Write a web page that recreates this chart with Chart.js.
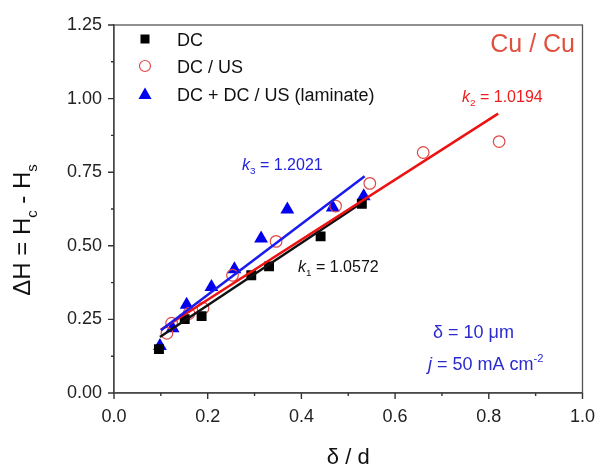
<!DOCTYPE html>
<html>
<head>
<meta charset="utf-8">
<script src="https://cdn.jsdelivr.net/npm/chart.js@4.4.0/dist/chart.umd.min.js"></script>
<style>
html,body{margin:0;padding:0;background:#fff}
</style>
</head>
<body>
<canvas id="c" width="608" height="466"></canvas>
<script>
'use strict'
// values
var dcX=[0.096,0.151,0.187,0.293,0.331,0.441,0.529]
var dcY=[0.149,0.251,0.261,0.400,0.430,0.532,0.643]
var usX=[0.113,0.123,0.160,0.190,0.253,0.346,0.473,0.546,0.660,0.822]
var usY=[0.203,0.237,0.270,0.288,0.400,0.515,0.635,0.712,0.817,0.854]
var lamX=[0.098,0.125,0.155,0.208,0.257,0.314,0.370,0.467,0.533]
var lamY=[0.160,0.220,0.300,0.360,0.420,0.525,0.623,0.630,0.668]
// fitted line end points
var fitDcX=[0.098,0.530], fitDcY=[0.190,0.647]
var fitUsX=[0.100,0.820], fitUsY=[0.215,0.949]
var fitLamX=[0.100,0.535], fitLamY=[0.213,0.736]
var xTicks=[0,0.2,0.4,0.6,0.8,1.0]
var yTicks=[0,0.25,0.5,0.75,1.0,1.25]

var FONT='"Liberation Sans", Arial, sans-serif'

function pts(xs,ys){
  var out=[]
  for(var i=0;i<xs.length;i++) out.push({x:xs[i],y:ys[i]})
  return out
}

// draws text made of pieces, some italic / sub / sup
function rich(ctx,parts,x,y,size,color,align){
  var w=0
  parts.forEach(function(p){
    var s=(p.sub||p.sup)?size*0.62:size
    ctx.font=(p.it?'italic ':'')+s+'px '+FONT
    p.w=ctx.measureText(p.t).width
    w+=p.w
  })
  var cx=x
  if(align==='right') cx=x-w
  if(align==='center') cx=x-w/2
  ctx.fillStyle=color
  ctx.textBaseline='alphabetic'
  ctx.textAlign='left'
  parts.forEach(function(p){
    var s=(p.sub||p.sup)?size*0.62:size
    ctx.font=(p.it?'italic ':'')+s+'px '+FONT
    var dy=p.sub?size*0.28:(p.sup?-size*0.42:0)
    ctx.fillText(p.t,cx,y+dy)
    cx+=p.w
  })
}

var extras={
  id:'extras',
  afterDraw:function(chart){
    var ctx=chart.ctx, a=chart.chartArea
    var sx=chart.scales.x, sy=chart.scales.y
    ctx.save()
    // frame
    ctx.strokeStyle='#555'
    ctx.lineWidth=1.3
    ctx.strokeRect(a.left,a.top,a.right-a.left,a.bottom-a.top)
    // ticks, major and minor
    ctx.strokeStyle='#333'
    ctx.lineWidth=1.4
    ctx.beginPath()
    for(var i=0;i<=10;i++){
      var px=sx.getPixelForValue(i/10)
      ctx.moveTo(px,a.bottom)
      ctx.lineTo(px,a.bottom+(i%2?3:6))
      var py=sy.getPixelForValue(i*0.125)
      ctx.moveTo(a.left,py)
      ctx.lineTo(a.left-(i%2?3:6),py)
    }
    ctx.stroke()

    // legend
    var lx=145
    var rows=[39,66,94]
    ctx.fillStyle='#000'
    ctx.fillRect(lx-4.5,rows[0]-4.5,9,9)
    ctx.strokeStyle='#e04848'
    ctx.lineWidth=1.2
    ctx.beginPath()
    ctx.arc(lx,rows[1],5.5,0,Math.PI*2)
    ctx.stroke()
    ctx.fillStyle='#0000ee'
    ctx.beginPath()
    ctx.moveTo(lx,rows[2]-6.5)
    ctx.lineTo(lx+6.5,rows[2]+5)
    ctx.lineTo(lx-6.5,rows[2]+5)
    ctx.closePath()
    ctx.fill()
    var names=['DC','DC / US','DC + DC / US (laminate)']
    for(var r=0;r<3;r++) rich(ctx,[{t:names[r]}],177,rows[r]+6.5,18,'#111','left')

    // annotations
    rich(ctx,[{t:'Cu / Cu'}],575,52,25,'#e0503f','right')
    rich(ctx,[{t:'k',it:true},{t:'2',sub:true},{t:' = 1.0194'}],462,102,16,'#ee1c1c','left')
    rich(ctx,[{t:'k',it:true},{t:'3',sub:true},{t:' = 1.2021'}],242,170,16,'#2222dd','left')
    rich(ctx,[{t:'k',it:true},{t:'1',sub:true},{t:' = 1.0572'}],298,272,16,'#111','left')
    rich(ctx,[{t:'\u03b4 = 10 \u03bcm'}],433,338,18,'#2a2ad0','left')
    rich(ctx,[{t:'j',it:true},{t:' = 50 mA cm'},{t:'-2',sup:true}],428,370,18,'#2a2ad0','left')

    // y axis title with subscripts
    ctx.translate(30,230)
    ctx.rotate(-Math.PI/2)
    rich(ctx,[{t:'\u0394H = H'},{t:'c',sub:true},{t:' - H'},{t:'s',sub:true}],0,0,24,'#111','center')
    ctx.restore()

    // x axis title
    ctx.save()
    rich(ctx,[{t:'\u03b4 / d'}],a.left+(a.right-a.left)/2,464,22,'#111','center')
    ctx.restore()
  }
}

new Chart(document.getElementById('c'),{
  type:'scatter',
  data:{
    datasets:[
      {label:'DC',data:pts(dcX,dcY),pointStyle:'rect',pointRadius:7,backgroundColor:'#000',borderColor:'#000',borderWidth:0,order:3},
      {label:'DC / US',data:pts(usX,usY),pointStyle:'circle',pointRadius:5.8,backgroundColor:'rgba(0,0,0,0)',borderColor:'#e04848',borderWidth:1.2,order:3},
      {label:'DC + DC / US (laminate)',data:pts(lamX,lamY),pointStyle:'triangle',pointRadius:8,backgroundColor:'#0000ee',borderColor:'#0000ee',borderWidth:0,order:3},
      {label:'fit DC',type:'line',data:pts(fitDcX,fitDcY),borderColor:'#111',borderWidth:2.5,pointRadius:0,fill:false,order:2},
      {label:'fit DC / US',type:'line',data:pts(fitUsX,fitUsY),borderColor:'#ee1111',borderWidth:2.5,pointRadius:0,fill:false,order:1},
      {label:'fit laminate',type:'line',data:pts(fitLamX,fitLamY),borderColor:'#1a1aee',borderWidth:2.5,pointRadius:0,fill:false,order:0}
    ]
  },
  options:{
    responsive:false,
    animation:false,
    layout:{padding:{top:25,right:23,left:0,bottom:0}},
    plugins:{legend:{display:false},tooltip:{enabled:false}},
    scales:{
      x:{
        type:'linear',min:0,max:1,
        afterFit:function(s){s.height=73},
        afterBuildTicks:function(s){s.ticks=xTicks.map(function(v){return {value:v}})},
        grid:{display:true,drawOnChartArea:false,drawTicks:false},
        border:{display:true,color:'#333',width:1.4},
        ticks:{padding:13,color:'#222',font:{family:FONT,size:18},callback:function(v){return v.toFixed(1)}}
      },
      y:{
        type:'linear',min:0,max:1.25,
        afterFit:function(s){s.width=114},
        afterBuildTicks:function(s){s.ticks=yTicks.map(function(v){return {value:v}})},
        grid:{display:true,drawOnChartArea:false,drawTicks:false},
        border:{display:true,color:'#333',width:1.4},
        ticks:{padding:12,color:'#222',font:{family:FONT,size:18},callback:function(v){return v.toFixed(2)}}
      }
    }
  },
  plugins:[extras]
})
</script>
</body>
</html>
